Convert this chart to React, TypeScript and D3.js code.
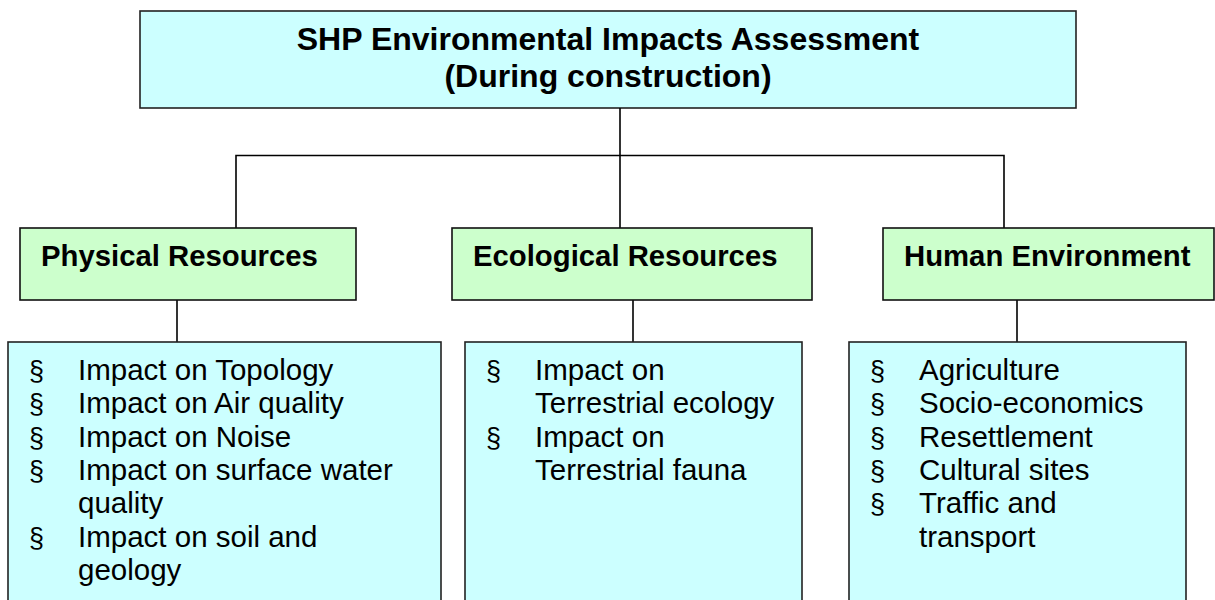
import React from "react";
import * as d3 from "d3";

const titleLines = ["SHP Environmental Impacts Assessment", "(During construction)"];
const categories = ["Physical Resources", "Ecological Resources", "Human Environment"];
const physicalItems = [
  ["Impact on Topology"],
  ["Impact on Air quality"],
  ["Impact on Noise"],
  ["Impact on surface water", "quality"],
  ["Impact on soil and", "geology"],
];
const ecologicalItems = [
  ["Impact on", "Terrestrial ecology"],
  ["Impact on", "Terrestrial fauna"],
];
const humanItems = [
  ["Agriculture"],
  ["Socio-economics"],
  ["Resettlement"],
  ["Cultural sites"],
  ["Traffic and", "transport"],
];
const itemGroups = [physicalItems, ecologicalItems, humanItems];

const FONT = "'Liberation Sans', Arial, Helvetica, sans-serif";

// layout
const top = { x0: 140, x1: 1076, y0: 11, y1: 108 };
const greenBoxes = [
  { x0: 20, x1: 356, join: 236, drop: 177 },
  { x0: 452, x1: 812, join: 620, drop: 633 },
  { x0: 883, x1: 1214, join: 1004, drop: 1017 },
];
const blueBoxes = [
  { x0: 8, x1: 441 },
  { x0: 465, x1: 802 },
  { x0: 849, x1: 1186 },
];
const greenY = [228, 300];
const blueTop = 342;
const busY = 155.5;
const lineH = 33.3;

export default function App() {
  const col = d3.scaleOrdinal<string, number>().domain(categories).range([0, 1, 2]);
  const lineGen = d3.line();
  const rowY = d3.scaleLinear().domain([0, 1]).range([380, 380 + lineH]);

  return (
    <svg width={1215} height={600} style={{ position: "absolute", left: 0, top: 0, background: "#fff" }}>
      {/* top box */}
      <rect x={top.x0} y={top.y0} width={top.x1 - top.x0} height={top.y1 - top.y0} fill="#CCFFFF" stroke="#222" strokeWidth={1.6} />
      {titleLines.map((t, i) => (
        <text key={i} x={(top.x0 + top.x1) / 2} y={50 + i * 37} textAnchor="middle" fontFamily={FONT} fontWeight="bold" fontSize={32} fill="#000">
          {t}
        </text>
      ))}
      {/* connectors */}
      <path d={lineGen([[620, top.y1], [620, busY]]) || ""} stroke="#000" strokeWidth={1.6} fill="none" />
      <path d={lineGen([[greenBoxes[0].join, greenY[0]], [greenBoxes[0].join, busY], [greenBoxes[2].join, busY], [greenBoxes[2].join, greenY[0]]]) || ""} stroke="#000" strokeWidth={1.6} fill="none" />
      <path d={lineGen([[greenBoxes[1].join, busY], [greenBoxes[1].join, greenY[0]]]) || ""} stroke="#000" strokeWidth={1.6} fill="none" />
      {categories.map((c) => {
        const i = col(c);
        const g = greenBoxes[i];
        const b = blueBoxes[i];
        let row = 0;
        const rows: { bullet: boolean; text: string; r: number }[] = [];
        itemGroups[i].forEach((item) => {
          item.forEach((ln, k) => {
            rows.push({ bullet: k === 0, text: ln, r: row });
            row++;
          });
        });
        return (
          <g key={c}>
            <path d={lineGen([[g.drop, greenY[1]], [g.drop, blueTop]]) || ""} stroke="#000" strokeWidth={1.6} fill="none" />
            <rect x={g.x0} y={greenY[0]} width={g.x1 - g.x0} height={greenY[1] - greenY[0]} fill="#CCFFCC" stroke="#111" strokeWidth={1.6} />
            <text x={g.x0 + 21} y={266} fontFamily={FONT} fontWeight="bold" fontSize={29.3} fill="#000">
              {c}
            </text>
            <rect x={b.x0} y={blueTop} width={b.x1 - b.x0} height={300} fill="#CCFFFF" stroke="#222" strokeWidth={1.6} />
            {rows.map((r, k) => (
              <g key={k}>
                {r.bullet && (
                  <text x={b.x0 + 21} y={rowY(r.r)} fontFamily={FONT} fontSize={27} fill="#000">
                    §
                  </text>
                )}
                <text x={b.x0 + 70} y={rowY(r.r)} fontFamily={FONT} fontSize={29.5} fill="#000">
                  {r.text}
                </text>
              </g>
            ))}
          </g>
        );
      })}
    </svg>
  );
}
